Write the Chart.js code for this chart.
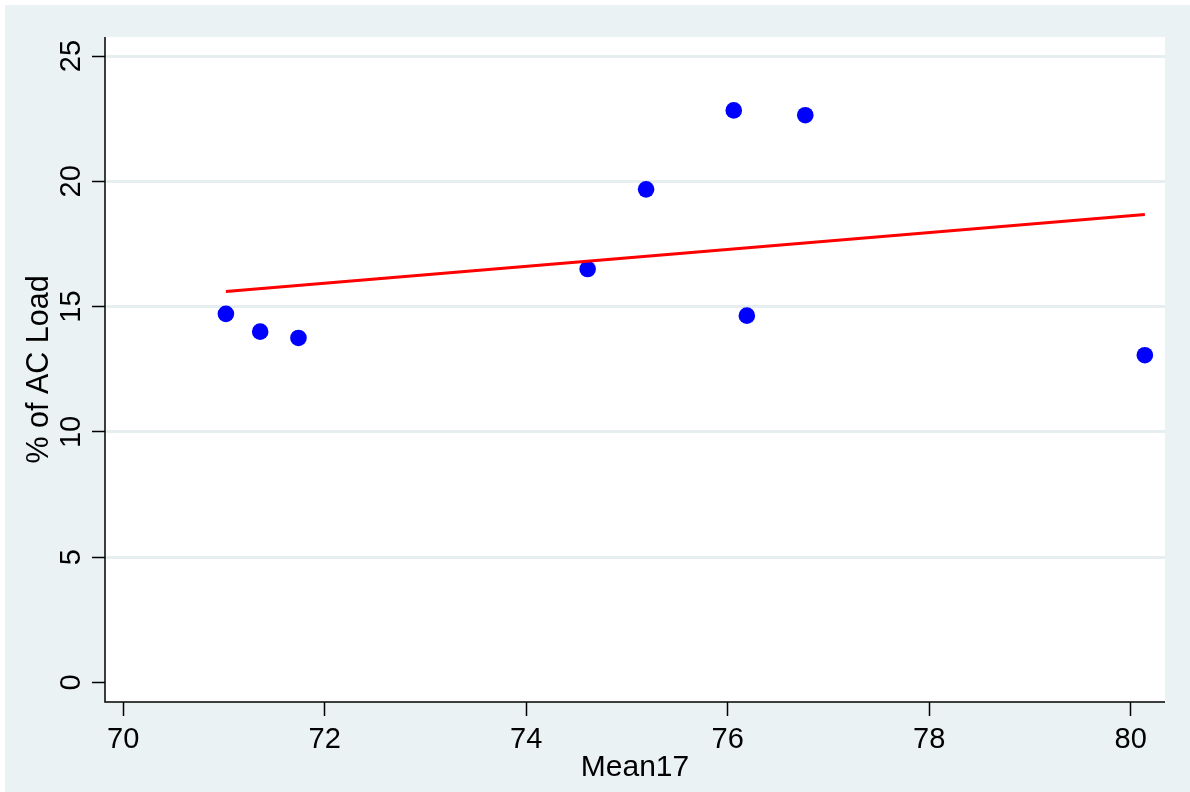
<!DOCTYPE html>
<html>
<head>
<meta charset="utf-8">
<script src="https://cdn.jsdelivr.net/npm/chart.js@4.4.1/dist/chart.umd.min.js"></script>
<style>
  body { margin: 0; background: #fff; }
  #wrap { width: 1190px; height: 792px; }
</style>
</head>
<body>
<div id="wrap"><canvas id="chart"></canvas></div>
<script>
// values
const meanX = [71.02, 71.36, 71.74, 74.61, 75.19, 76.06, 76.19, 76.77, 80.14];
const acLoad = [14.71, 14.00, 13.75, 16.50, 19.68, 22.83, 14.64, 22.64, 13.06];
const fitX = [71.02, 80.14];
const fitY = [15.60, 18.68];
const xTicks = [70, 72, 74, 76, 78, 80];
const yTicks = [0, 5, 10, 15, 20, 25];

const bgColor = '#EAF2F3';
const font = 'Liberation Sans, Arial, Helvetica, sans-serif';

// outer grey-blue frame + white plot region
const background = {
  id: 'background',
  beforeDraw(chart) {
    const { ctx, chartArea: a, width, height } = chart;
    ctx.save();
    ctx.fillStyle = '#fff';
    ctx.fillRect(0, 0, width, height);
    ctx.fillStyle = bgColor;
    ctx.fillRect(5, 5, width - 5, height - 5);
    ctx.fillStyle = '#fff';
    ctx.fillRect(a.left, a.top, a.right - a.left, a.bottom - a.top);
    ctx.restore();
  }
};

// axis lines (only along the plot region) and vertical y tick labels
const axisExtras = {
  id: 'axisExtras',
  afterDraw(chart) {
    const { ctx, chartArea: a } = chart;
    const y = chart.scales.y;
    ctx.save();
    ctx.strokeStyle = '#000';
    ctx.lineWidth = 1.5;
    ctx.lineCap = 'butt';
    ctx.beginPath();
    ctx.moveTo(a.left, a.top);
    ctx.lineTo(a.left, a.bottom);
    ctx.lineTo(a.right, a.bottom);
    ctx.stroke();

    ctx.fillStyle = '#000';
    ctx.font = '29px ' + font;
    ctx.textAlign = 'center';
    ctx.textBaseline = 'alphabetic';
    yTicks.forEach(v => {
      ctx.save();
      ctx.translate(80, y.getPixelForValue(v));
      ctx.rotate(-Math.PI / 2);
      ctx.fillText(String(v), 0, 0);
      ctx.restore();
    });
    ctx.restore();
  }
};

const onTick = (list, c) => c.tick && list.includes(c.tick.value);

new Chart(document.getElementById('chart'), {
  type: 'scatter',
  data: {
    datasets: [
      {
        label: 'points',
        data: meanX.map((x, i) => ({ x: x, y: acLoad[i] })),
        backgroundColor: '#0000FF',
        borderWidth: 0,
        pointRadius: 8.3,
        pointHoverRadius: 8.3,
        order: 2
      },
      {
        label: 'fit',
        type: 'line',
        data: fitX.map((x, i) => ({ x: x, y: fitY[i] })),
        borderColor: '#FF0000',
        borderWidth: 3,
        pointRadius: 0,
        fill: false,
        order: 1
      }
    ]
  },
  options: {
    responsive: true,
    maintainAspectRatio: false,
    animation: false,
    events: [],
    layout: { padding: { top: 37, right: 25, left: 0, bottom: 0 } },
    plugins: { legend: { display: false }, tooltip: { enabled: false } },
    scales: {
      x: {
        type: 'linear',
        min: 69.82,
        max: 80.34,
        afterBuildTicks: s => { s.ticks = xTicks.map(v => ({ value: v })); },
        afterFit: s => { s.height = 90; },
        border: { display: false },
        grid: {
          drawOnChartArea: false,
          drawTicks: true,
          tickLength: 14,
          tickColor: c => onTick(xTicks, c) ? '#000' : 'rgba(0,0,0,0)',
          tickWidth: 1.5
        },
        ticks: { color: '#000', font: { size: 29, family: font }, padding: 7, maxRotation: 0 },
        title: { display: true, text: 'Mean17', color: '#000', font: { size: 30, family: font }, padding: { top: 0, bottom: 6 } }
      },
      y: {
        type: 'linear',
        min: -0.78,
        max: 25.76,
        afterBuildTicks: s => { s.ticks = yTicks.map(v => ({ value: v })); },
        afterFit: s => { s.width = 105; },
        border: { display: false },
        grid: {
          color: c => (onTick(yTicks, c) && c.tick.value !== 0) ? '#E6EEF0' : 'rgba(0,0,0,0)',
          lineWidth: 3,
          drawTicks: true,
          tickLength: 13,
          tickColor: c => onTick(yTicks, c) ? '#000' : 'rgba(0,0,0,0)',
          tickWidth: 1.5
        },
        ticks: { display: false },
        title: { display: true, text: '% of AC Load', color: '#000', font: { size: 30.5, family: font }, padding: { top: 21, bottom: 0 } }
      }
    }
  },
  plugins: [background, axisExtras]
});
</script>
</body>
</html>
